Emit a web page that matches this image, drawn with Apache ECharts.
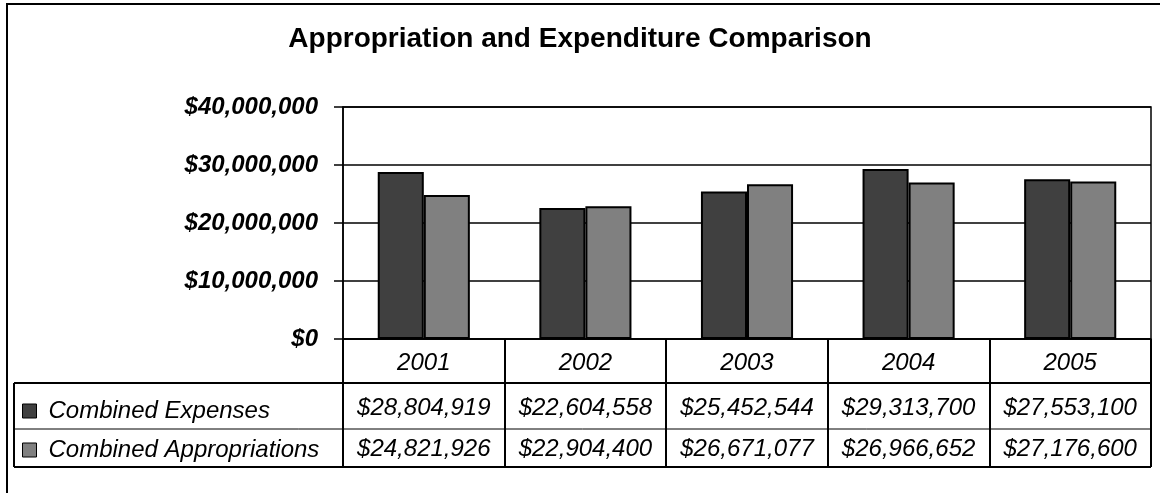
<!DOCTYPE html>
<html>
<head>
<meta charset="utf-8">
<script src="https://cdn.jsdelivr.net/npm/echarts@6/dist/echarts.min.js"></script>
<style>
  html, body { margin: 0; padding: 0; background: #fff; }
  #chart { width: 1160px; height: 493px; }
</style>
</head>
<body>
<div id="chart"></div>
<script>
// Fiscal years shown along the category axis
const years = ['2001', '2002', '2003', '2004', '2005'];
// Series values (dollars)
const combinedExpenses = [28804919, 22604558, 25452544, 29313700, 27553100];
const combinedAppropriations = [24821926, 22904400, 26671077, 26966652, 27176600];
const seriesNames = ['Combined Expenses', 'Combined Appropriations'];
// Value axis range
const yMin = 0;
const yMax = 40000000;
const yStep = 10000000;

const FONT = '"Liberation Sans", Arial, Helvetica, sans-serif';
const money = v => '$' + Number(v).toLocaleString('en-US');

const chart = echarts.init(document.getElementById('chart'), null, { renderer: 'canvas' });

chart.setOption({
  animation: false,
  backgroundColor: '#ffffff',
  title: {
    text: 'Appropriation and Expenditure Comparison',
    left: 'center',
    top: 20,
    textStyle: { fontFamily: FONT, fontSize: 28, fontWeight: 'bold', color: '#000' }
  },
  legend: {
    orient: 'vertical',
    left: 22,
    top: 399,
    padding: 0,
    itemWidth: 14,
    itemHeight: 14,
    itemGap: 15,
    icon: 'rect',
    itemStyle: { borderColor: '#000', borderWidth: 1 },
    textStyle: {
      fontFamily: FONT, fontSize: 24, fontStyle: 'italic', color: '#000',
      lineHeight: 24, padding: [0, 0, 0, 7]
    },
    data: seriesNames
  },
  grid: {
    left: 343, top: 107, width: 808, height: 232,
    show: true, borderColor: '#000', borderWidth: 1.5, backgroundColor: 'transparent'
  },
  xAxis: {
    type: 'category',
    data: years,
    boundaryGap: true,
    axisLine: { show: true, lineStyle: { color: '#000', width: 1.5 } },
    axisTick: { show: true, length: 128, alignWithLabel: false, lineStyle: { color: '#000', width: 2 } },
    axisLabel: {
      margin: 12, fontFamily: FONT, fontSize: 24, fontStyle: 'italic', color: '#000', lineHeight: 24
    },
    splitLine: { show: false }
  },
  yAxis: {
    type: 'value',
    min: yMin,
    max: yMax,
    interval: yStep,
    axisLine: { show: true, lineStyle: { color: '#000', width: 1.5 } },
    axisTick: { show: true, length: 9, lineStyle: { color: '#000', width: 1.5 } },
    axisLabel: {
      margin: 25, fontFamily: FONT, fontSize: 24, fontStyle: 'italic', fontWeight: 'bold', color: '#000',
      formatter: money
    },
    splitLine: { show: true, lineStyle: { color: '#000', width: 1.5 } }
  },
  series: [
    {
      name: seriesNames[0], type: 'bar', data: combinedExpenses,
      barGap: '0%', barCategoryGap: '43%',
      itemStyle: { color: '#404040', borderColor: '#000', borderWidth: 2 }
    },
    {
      name: seriesNames[1], type: 'bar', data: combinedAppropriations,
      barGap: '0%', barCategoryGap: '43%',
      itemStyle: { color: '#808080', borderColor: '#000', borderWidth: 2 }
    }
  ]
});

// Data table under the plot: frame lines and value cells placed from the axis scale
const base = chart.convertToPixel({ xAxisIndex: 0, yAxisIndex: 0 }, [0, yMin]);
const axisY = base[1];
const halfBand = (chart.convertToPixel({ xAxisIndex: 0 }, 1) - chart.convertToPixel({ xAxisIndex: 0 }, 0)) / 2;
const rightX = chart.convertToPixel({ xAxisIndex: 0 }, years.length - 1) + halfBand;
const tableLeft = 14;
const rowTop = axisY + 44;
const rowMid = axisY + 90;
const rowBottom = axisY + 128;
const rowCenters = [axisY + 69, axisY + 110];

const graphic = [
  { type: 'rect', silent: true, z: 100,
    shape: { x: 7, y: 4, width: 1200, height: 600 },
    style: { fill: null, stroke: '#000', lineWidth: 2 } },
  { type: 'line', silent: true, z: 100,
    shape: { x1: tableLeft, y1: rowTop, x2: tableLeft, y2: rowBottom },
    style: { stroke: '#000', lineWidth: 2 } },
  { type: 'line', silent: true, z: 100,
    shape: { x1: tableLeft, y1: rowTop, x2: rightX, y2: rowTop },
    style: { stroke: '#000', lineWidth: 2 } },
  { type: 'line', silent: true, z: 100,
    shape: { x1: tableLeft, y1: rowMid, x2: rightX, y2: rowMid },
    style: { stroke: '#000', lineWidth: 1 } },
  { type: 'line', silent: true, z: 100,
    shape: { x1: tableLeft, y1: rowBottom, x2: rightX, y2: rowBottom },
    style: { stroke: '#000', lineWidth: 2 } }
];

[combinedExpenses, combinedAppropriations].forEach((values, r) => {
  values.forEach((v, i) => {
    const cx = chart.convertToPixel({ xAxisIndex: 0 }, i);
    graphic.push({
      type: 'text', silent: true, z: 100,
      x: cx, y: rowCenters[r],
      style: {
        text: money(v), fill: '#000',
        font: 'italic 24px ' + FONT,
        align: 'center', verticalAlign: 'middle'
      }
    });
  });
});

chart.setOption({ graphic: graphic });
</script>
</body>
</html>
